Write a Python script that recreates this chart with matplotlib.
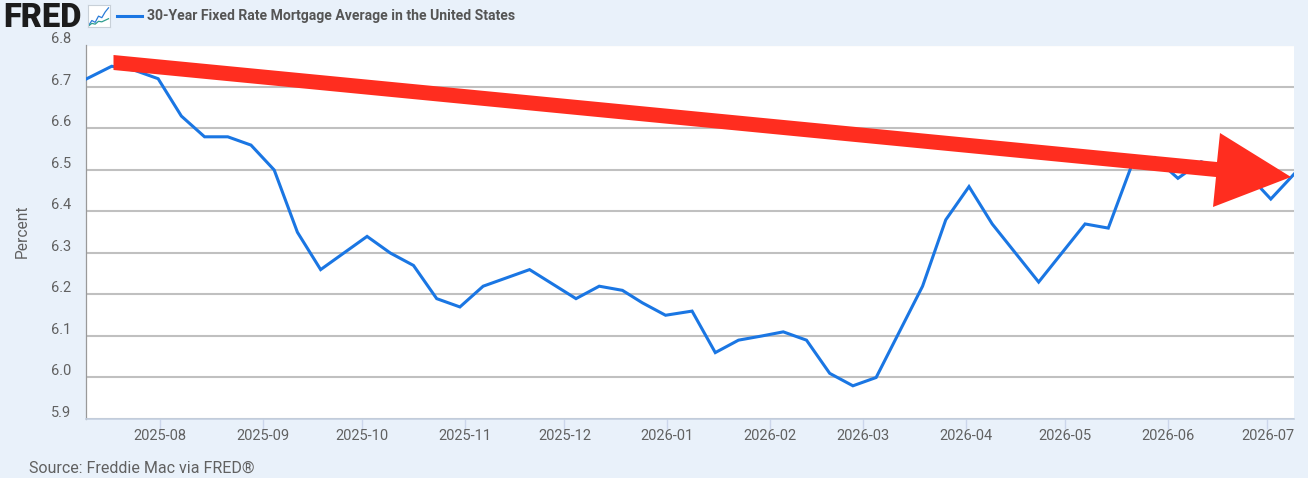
import numpy as np
import pandas as pd
import matplotlib
matplotlib.use('Agg')
import matplotlib.pyplot as plt
import matplotlib.dates as mdates
from matplotlib.patches import Polygon
from matplotlib.transforms import ScaledTranslation

W, H = 1308, 478

dates = ['2025-07-10', '2025-07-17', '2025-07-24', '2025-07-31', '2025-08-07', '2025-08-14',
         '2025-08-21', '2025-08-28', '2025-09-04', '2025-09-11', '2025-09-18', '2025-09-25',
         '2025-10-02', '2025-10-09', '2025-10-16', '2025-10-23', '2025-10-30', '2025-11-06',
         '2025-11-13', '2025-11-20', '2025-11-26', '2025-12-04', '2025-12-11', '2025-12-18',
         '2025-12-24', '2025-12-31', '2026-01-08', '2026-01-15', '2026-01-22', '2026-01-29',
         '2026-02-05', '2026-02-12', '2026-02-19', '2026-02-26', '2026-03-05', '2026-03-12',
         '2026-03-19', '2026-03-26', '2026-04-02', '2026-04-09', '2026-04-16', '2026-04-23',
         '2026-04-30', '2026-05-07', '2026-05-14', '2026-05-21', '2026-05-28', '2026-06-04',
         '2026-06-11', '2026-06-18', '2026-06-25', '2026-07-02', '2026-07-09']
rates = [6.72, 6.75, 6.74, 6.72, 6.63, 6.58,
         6.58, 6.56, 6.50, 6.35, 6.26, 6.30,
         6.34, 6.30, 6.27, 6.19, 6.17, 6.22,
         6.24, 6.26, 6.23, 6.19, 6.22, 6.21,
         6.18, 6.15, 6.16, 6.06, 6.09, 6.10,
         6.11, 6.09, 6.01, 5.98, 6.00, 6.11,
         6.22, 6.38, 6.46, 6.37, 6.30, 6.23,
         6.30, 6.37, 6.36, 6.51, 6.53, 6.48,
         6.52, 6.50, 6.49, 6.43, 6.49]
y_ticks = [5.9, 6.0, 6.1, 6.2, 6.3, 6.4, 6.5, 6.6, 6.7, 6.8]
x_ticks = ['2025-08-01', '2025-09-01', '2025-10-01', '2025-11-01', '2025-12-01', '2026-01-01',
           '2026-02-01', '2026-03-01', '2026-04-01', '2026-05-01', '2026-06-01', '2026-07-01']
# little chart icon beside the logo
icon_blue = [0.5, 2.5, 1.8, 4.2, 3.6, 5.8, 7.4]
icon_green = [0.4, 1.4, 1.1, 2.2, 2.0, 2.6, 3.2]

BG = '#e9f1fa'
BLUE = '#1a76e3'
RED = '#ff2d1f'
GREY = '#616161'

plt.rcParams['font.family'] = ['Roboto', 'DejaVu Sans']

fig = plt.figure(figsize=(W / 100, H / 100), dpi=100, facecolor=BG)


def px_x(x):
    return x / W


def px_y(y):
    return 1 - y / H


ax = fig.add_axes([px_x(86), px_y(419), (1294 - 86) / W, (419 - 45.5) / H])
ax.set_facecolor('white')

x = pd.to_datetime(dates)
# weekly points up to early 2026 sit about half a day later against the picture's month ticks
late = (x > '2025-07-10') & (x < '2026-02-01')
x = x.where(~late, x + pd.Timedelta(hours=12))
ax.plot(x, rates, color=BLUE, lw=2.2, solid_joinstyle='miter', zorder=3)

ax.set_xlim(pd.Timestamp('2025-07-09 18:00'), pd.Timestamp('2026-07-09'))
ax.set_ylim(5.9, 6.8)
ax.set_yticks(y_ticks)
ax.set_yticklabels([f'{v:.1f}' for v in y_ticks])
ax.set_xticks(pd.to_datetime(x_ticks))
ax.xaxis.set_major_formatter(mdates.DateFormatter('%Y-%m'))
ax.grid(axis='y', color='#c0c0c0', lw=1.5, zorder=1)
ax.set_axisbelow(True)

ax.tick_params(axis='y', length=0, pad=10.7, labelsize=10.5, labelcolor=GREY)
ax.tick_params(axis='x', length=7.5, width=1, color='#ccd6eb', pad=0, labelsize=10.5, labelcolor=GREY)
shift = ScaledTranslation(0, 6 / 100, fig.dpi_scale_trans)
for lab in ax.get_yticklabels():
    lab.set_transform(lab.get_transform() + shift)
    lab.set_verticalalignment('center')

for side in ['top', 'right']:
    ax.spines[side].set_visible(False)
ax.spines['left'].set_color('#999999')
ax.spines['left'].set_linewidth(0.9)
ax.spines['bottom'].set_color('#c3cfe0')
ax.spines['bottom'].set_linewidth(1.2)

fig.text(px_x(22), px_y(231), 'Percent', rotation=90, ha='center', va='center', fontsize=11.2, color=GREY)
fig.text(px_x(29), px_y(468), 'Source: Freddie Mac via FRED\u00ae', ha='left', va='center', fontsize=11.5, color=GREY)

# header: logo, icon, legend
fig.text(px_x(3), px_y(27), 'FRED', ha='left', va='baseline', fontsize=23.5, fontweight='black',
         color='#1c1c1c', family='Roboto')
icon = fig.add_axes([px_x(87.5), px_y(27), 22 / W, 22 / H])
icon.set_facecolor('white')
icon.set_xticks([])
icon.set_yticks([])
for s in icon.spines.values():
    s.set_color('#c8d0d8')
    s.set_linewidth(0.8)
icon.plot(icon_blue, color='#2a7bd8', lw=0.9)
icon.plot(icon_green, color='#2f9e8f', lw=0.9)
icon.set_ylim(0, 8.5)
icon.set_xlim(-0.3, 6.3)

fig.add_artist(plt.Line2D([px_x(117), px_x(142)], [px_y(16), px_y(16)], color=BLUE, lw=2.2))
fig.text(px_x(147), px_y(16), '30-Year Fixed Rate Mortgage Average in the United States', ha='left', va='center',
         fontsize=10.1, fontweight='bold', color='#555555')

# red arrow painted over the chart, in pixels of the picture
arrow_px = [(113.5, 55), (1217, 162), (1220, 133), (1291, 177), (1213, 207), (1216, 177), (113.5, 70)]
fig.add_artist(Polygon([(px_x(a), px_y(b)) for a, b in arrow_px], closed=True, transform=fig.transFigure,
                       facecolor=RED, edgecolor='none', zorder=10))

fig.savefig('out.png', dpi=100, facecolor=BG)
